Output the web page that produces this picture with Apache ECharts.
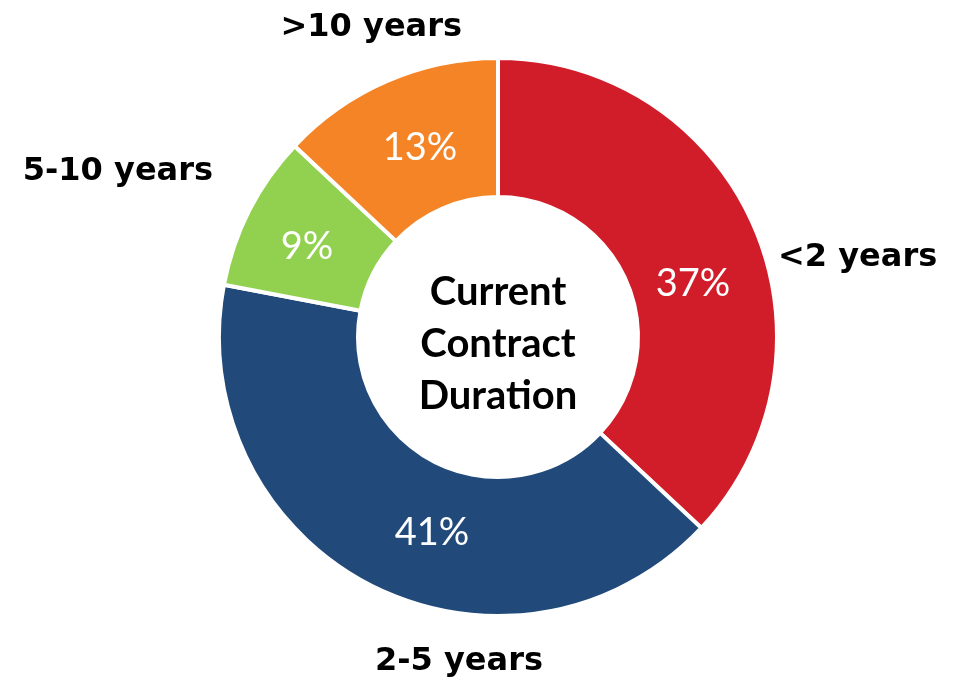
<!DOCTYPE html>
<html>
<head>
<meta charset="utf-8">
<script src="https://cdn.jsdelivr.net/npm/echarts@6/dist/echarts.min.js"></script>
<style>
html,body{margin:0;padding:0;background:#fff;}
#chart{width:955px;height:682px;}
</style>
</head>
<body>
<div id="chart"></div>
<script>
const categories = ['<2 years', '2-5 years', '5-10 years', '>10 years'];
const values = [37, 41, 9, 13];
const percentLabels = ['37%', '41%', '9%', '13%'];
const centerTitle = 'Current\nContract\nDuration';

// styles / layout (not data)
const colors = ['#D11D29', '#214A7B', '#92D050', '#F58426'];
const outerLabelPos = [
  { x: 778, y: 258, align: 'left' },
  { x: 459, y: 662, align: 'center' },
  { x: 213, y: 172, align: 'right' },
  { x: 462, y: 28, align: 'right' }
];
const innerLabelPos = [
  { x: 693, y: 284 },
  { x: 432, y: 533 },
  { x: 307, y: 247 },
  { x: 420, y: 148 }
];

const chart = echarts.init(document.getElementById('chart'), null, { renderer: 'canvas' });

const pieData = categories.map((c, i) => ({
  name: c,
  value: values[i],
  itemStyle: { color: colors[i] }
}));

chart.setOption({
  animation: false,
  series: [
    {
      type: 'pie',
      center: [498, 337],
      radius: [140, 279],
      startAngle: 90,
      clockwise: true,
      silent: true,
      itemStyle: { borderColor: '#ffffff', borderWidth: 4 },
      label: {
        show: true,
        position: 'inside',
        formatter: (p) => percentLabels[p.dataIndex],
        color: '#ffffff',
        fontFamily: 'Lato',
        fontSize: 38,
        fontWeight: 'normal',
        overflow: 'none'
      },
      labelLine: { show: false },
      labelLayout: (params) => ({
        x: innerLabelPos[params.dataIndex].x,
        y: innerLabelPos[params.dataIndex].y,
        align: 'center',
        verticalAlign: 'middle'
      }),
      data: pieData
    },
    {
      type: 'pie',
      center: [498, 337],
      radius: [140, 279],
      startAngle: 90,
      clockwise: true,
      silent: true,
      z: 1,
      itemStyle: { color: 'rgba(0,0,0,0)', borderWidth: 0 },
      label: {
        show: true,
        position: 'outside',
        formatter: '{b}',
        color: '#000000',
        fontFamily: 'DejaVu Sans',
        fontSize: 32,
        fontWeight: 'bold',
        overflow: 'none',
        width: 300
      },
      labelLine: { show: false },
      labelLayout: (params) => ({
        x: outerLabelPos[params.dataIndex].x,
        y: outerLabelPos[params.dataIndex].y,
        align: outerLabelPos[params.dataIndex].align,
        verticalAlign: 'middle'
      }),
      data: categories.map((c, i) => ({ name: c, value: values[i] }))
    }
  ],
  graphic: [
    {
      type: 'text',
      left: 498 - 100,
      top: 266,
      style: {
        text: centerTitle,
        width: 200,
        align: 'center',
        x: 100,
        fill: '#000000',
        font: 'bold 40px Lato',
        lineHeight: 52,
        textAlign: 'center'
      }
    }
  ]
});
</script>
</body>
</html>
